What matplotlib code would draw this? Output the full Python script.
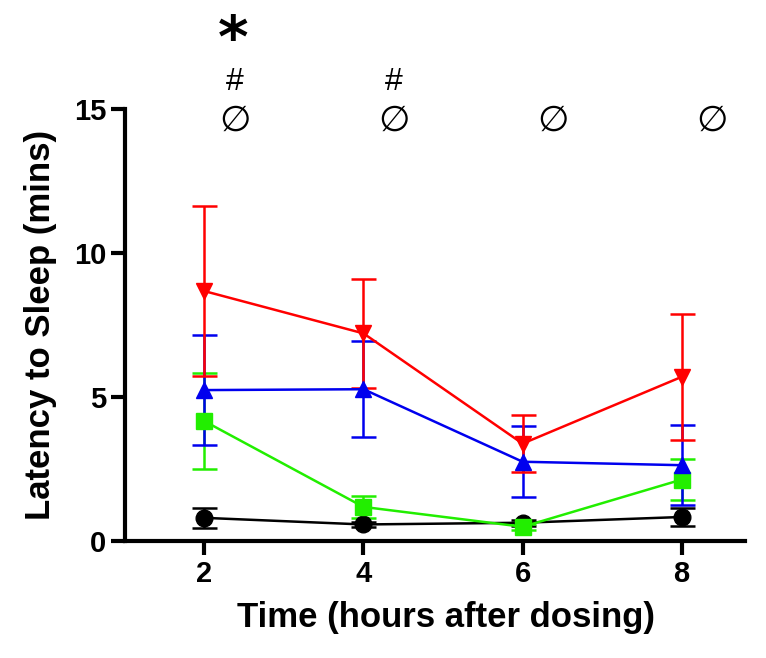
import numpy as np
import matplotlib.pyplot as plt

plt.rcParams['font.family'] = ['Liberation Sans', 'DejaVu Sans']

hours = [2, 4, 6, 8]

red = [8.68, 7.21, 3.38, 5.70]
red_err = [2.95, 1.89, 0.99, 2.18]
blue = [5.24, 5.27, 2.75, 2.63]
blue_err = [1.92, 1.66, 1.24, 1.39]
green = [4.16, 1.18, 0.49, 2.13]
green_err = [1.66, 0.37, 0.1, 0.72]
black = [0.80, 0.57, 0.63, 0.83]
black_err = [0.35, 0.1, 0.1, 0.3]

fig = plt.figure(figsize=(7.66, 6.58), dpi=100)
ax = fig.add_axes([0.163, 0.178, 0.81, 0.656])

series = [
    (black, black_err, 'black', 'o', 12),
    (green, green_err, '#22ee00', 's', 11),
    (blue, blue_err, '#0000ee', '^', 11),
    (red, red_err, '#ff0000', 'v', 11),
]
for vals, err, c, m, ms in series:
    ax.errorbar(hours, vals, yerr=err, color=c, marker=m, markersize=ms,
                linewidth=1.8, elinewidth=1.8, capsize=9, capthick=1.8, clip_on=False)

ax.set_xlim(1.0, 8.8)
ax.set_ylim(0, 15)
ax.set_xticks(hours)
ax.set_yticks([0, 5, 10, 15])
for s in ['top', 'right']:
    ax.spines[s].set_visible(False)
for s in ['left', 'bottom']:
    ax.spines[s].set_linewidth(3)
ax.tick_params(width=3, length=10, labelsize=21)
for lab in ax.get_xticklabels() + ax.get_yticklabels():
    lab.set_fontweight('bold')
ax.set_xlabel('Time (hours after dosing)', fontsize=25, fontweight='bold', labelpad=14)
ax.xaxis.set_label_coords(0.518, -0.14)
ax.set_ylabel('Latency to Sleep (mins)', fontsize=25, fontweight='bold', labelpad=12)

for h in hours:
    ax.text(h + 0.38, 14.6, '∅', fontsize=26, ha='center', va='center',
            family='DejaVu Sans', clip_on=False)
for h in [2, 4]:
    ax.text(h + 0.38, 15.95, '#', fontsize=23, ha='center', va='center', clip_on=False)
ax.text(2.36, 17.4, '*', fontsize=42, fontweight='bold', ha='center', va='center',
        family='DejaVu Sans', clip_on=False)

plt.savefig('out.png')
